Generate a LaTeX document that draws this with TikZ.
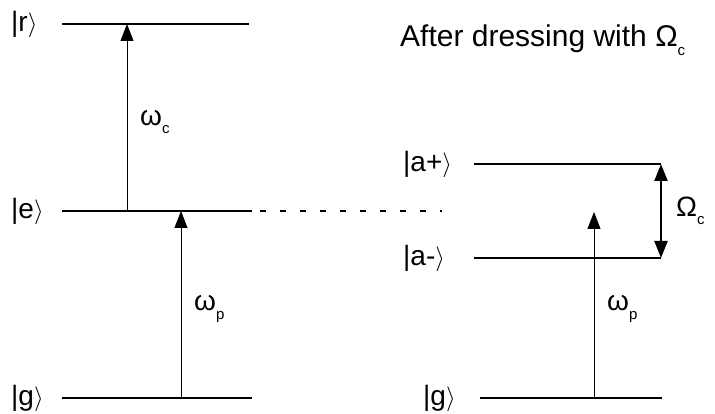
\documentclass[tikz,border=0pt]{standalone}
\usepackage{fontspec}
\setmainfont{Liberation Sans}
\usetikzlibrary{arrows.meta}
\newcommand{\ket}[1]{|#1$\rangle$}
\newcommand{\lsub}[1]{\raisebox{-0.3em}{\fontsize{15}{15}\selectfont #1}}
\tikzset{
  level/.style={line width=2.8pt},
  trans/.style={line width=0.9pt,-{Triangle[length=17pt,width=13pt]}},
  rabi/.style={line width=2.2pt,{Triangle[length=17pt,width=13pt]}-{Triangle[length=17pt,width=13pt]}},
  lab/.style={font=\fontsize{28}{30}\selectfont,inner sep=0pt},
  ttl/.style={font=\fontsize{30}{32}\selectfont,inner sep=0pt},
  dots/.style={line width=1.3pt,dash pattern=on 6pt off 14pt}
}
\begin{document}
\begin{tikzpicture}[x=1pt,y=-1pt]
\useasboundingbox (0,0) rectangle (715,414);
% levels
\coordinate (r1) at (62,24);  \coordinate (r2) at (249,24);
\coordinate (e1) at (62,211); \coordinate (e2) at (252,211);
\coordinate (gl1) at (62,398); \coordinate (gl2) at (252,398);
\coordinate (ap1) at (474,164); \coordinate (ap2) at (661,164);
\coordinate (am1) at (474,258); \coordinate (am2) at (661,258);
\coordinate (gr1) at (480,398); \coordinate (gr2) at (662,398);
\coordinate (d1) at (260,211); \coordinate (d2) at (442,211);
\draw[level] (r1) -- (r2);
\draw[level] (e1) -- (e2);
\draw[level] (gl1) -- (gl2);
\draw[level] (ap1) -- (ap2);
\draw[level] (am1) -- (am2);
\draw[level] (gr1) -- (gr2);
\draw[dots] (d1) -- (d2);
% transitions
\coordinate (c0) at (127,211); \coordinate (c1) at (127,24);
\coordinate (p0) at (181,398); \coordinate (p1) at (181,211);
\coordinate (q0) at (594,398); \coordinate (q1) at (594,212);
\draw[trans] (c0) -- (c1);
\draw[trans] (p0) -- (p1);
\draw[trans] (q0) -- (q1);
\draw[rabi] (ap2) -- (am2);
% labels
\node[lab,anchor=west] (lr) at (11,24) {\ket{r}};
\node[lab,anchor=west] (le) at (11,211) {\ket{e}};
\node[lab,anchor=west] (lg) at (11,398) {\ket{g}};
\node[lab,anchor=west] (lap) at (403,164) {\ket{a+}};
\node[lab,anchor=west] (lam) at (403,258) {\ket{a-}};
\node[lab,anchor=west] (lgr) at (423,398) {\ket{g}};
\node[lab,anchor=west] (wc) at (140,122) {ω\lsub{c}};
\node[lab,anchor=west] (wp) at (194,309) {ω\lsub{p}};
\node[lab,anchor=west] (wp2) at (607,309) {ω\lsub{p}};
\node[lab,anchor=west] (Oc) at (676,211) {Ω\lsub{c}};
\node[ttl,anchor=west] (title) at (400,40) {After dressing with Ω\lsub{c}};
\end{tikzpicture}
\end{document}
